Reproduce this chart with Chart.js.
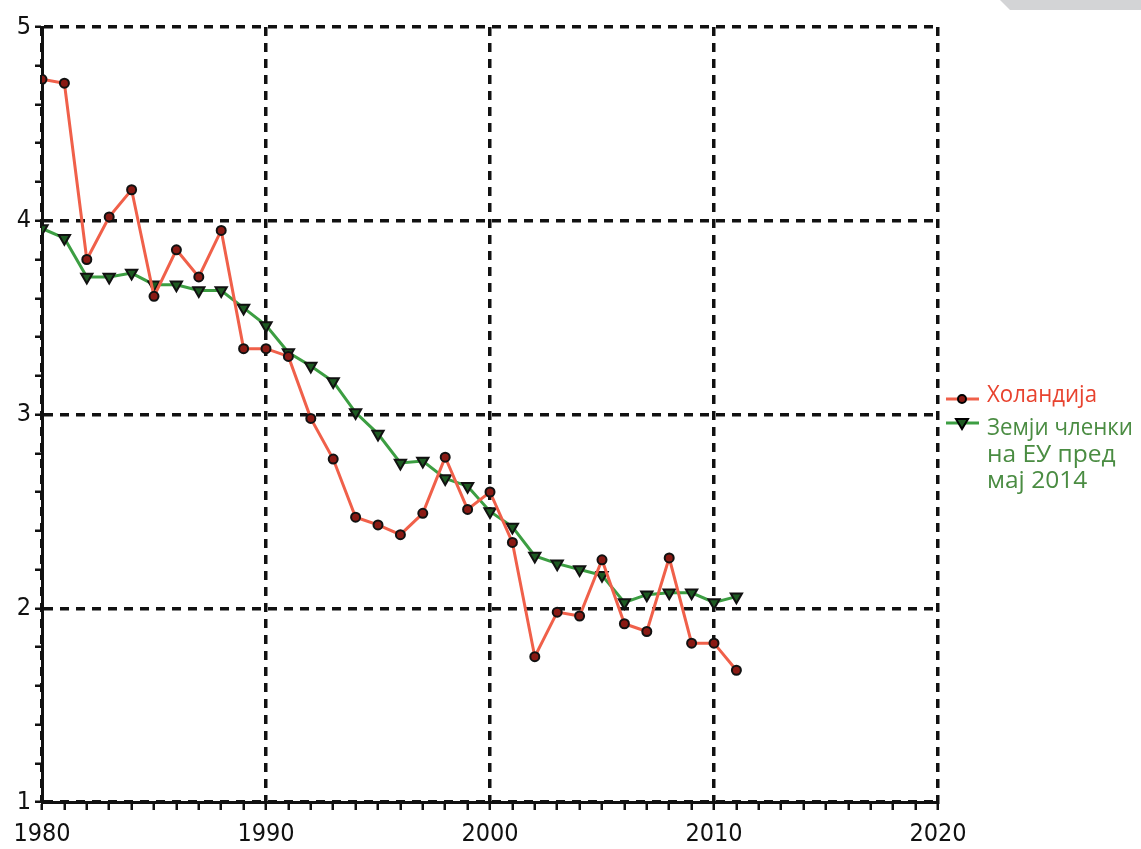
<!DOCTYPE html>
<html>
<head>
<meta charset="utf-8">
<script src="https://cdn.jsdelivr.net/npm/chart.js@4/dist/chart.umd.min.js"></script>
<style>
  body { margin: 0; background: #fff; }
  #wrap { position: relative; width: 1141px; height: 849px; }
  #corner { position: absolute; top: 0; left: 1000px; width: 141px; height: 10px;
            background: #d3d4d6; clip-path: polygon(0 0, 100% 0, 100% 100%, 10px 100%); }
</style>
</head>
<body>
<div id="wrap">
  <canvas id="canvas" width="1141" height="849"></canvas>
  <div id="corner"></div>
</div>
<script>
var years = [1980,1981,1982,1983,1984,1985,1986,1987,1988,1989,1990,1991,1992,1993,1994,1995,
             1996,1997,1998,1999,2000,2001,2002,2003,2004,2005,2006,2007,2008,2009,2010,2011];
var holandija = [4.73,4.71,3.80,4.02,4.16,3.61,3.85,3.71,3.95,3.34,3.34,3.30,2.98,2.77,2.47,2.43,
                 2.38,2.49,2.78,2.51,2.60,2.34,1.75,1.98,1.96,2.25,1.92,1.88,2.26,1.82,1.82,1.68];
var euMembers = [3.96,3.91,3.71,3.71,3.73,3.67,3.67,3.64,3.64,3.55,3.46,3.32,3.25,3.17,3.01,2.90,
                 2.75,2.76,2.67,2.63,2.50,2.42,2.27,2.23,2.20,2.17,2.03,2.07,2.08,2.08,2.03,2.06];
var legendRed = ['Холандија'];
var legendGreen = ['Земји членки', 'на ЕУ пред', 'мај 2014'];

function pts(vals){
    var out=[]
    for(var i=0;i<years.length;i++){ out.push({x:years[i],y:vals[i]}) }
    return out
}
function isInt(v){ return Math.abs(v-Math.round(v))<1e-6 }

var FONT = "'Open Sans', 'Noto Sans', sans-serif";
var TICKFONT = "'Liberation Sans Narrow', 'DejaVu Sans Condensed', 'Open Sans', sans-serif";

var legendPlugin = {
    id: 'sideLegend',
    afterDraw: function(chart){
        var ctx = chart.ctx;
        var ds = chart.data.datasets;
        ctx.save();
        ctx.font = '24.5px ' + FONT;
        ctx.textBaseline = 'alphabetic';
        // red entry
        ctx.strokeStyle = ds[0].borderColor; ctx.lineWidth = 3;
        ctx.beginPath(); ctx.moveTo(946,399); ctx.lineTo(979,399); ctx.stroke();
        ctx.fillStyle = ds[0].pointBackgroundColor; ctx.strokeStyle='#000';
        ctx.beginPath(); ctx.arc(962,399,4,0,Math.PI*2); ctx.fill(); ctx.lineWidth=2; ctx.stroke();
        ctx.fillStyle = '#e8432f';
        ctx.fillText(legendRed[0], 987, 402, 110);
        // green entry
        ctx.strokeStyle = ds[1].borderColor; ctx.lineWidth = 3;
        ctx.beginPath(); ctx.moveTo(946,423); ctx.lineTo(979,423); ctx.stroke();
        ctx.fillStyle = ds[1].pointBackgroundColor; ctx.strokeStyle='#000'; ctx.lineWidth=2;
        ctx.beginPath(); ctx.moveTo(956,419); ctx.lineTo(968,419); ctx.lineTo(962,429); ctx.closePath();
        ctx.fill(); ctx.stroke();
        ctx.fillStyle = '#4a8c42';
        for(var i=0;i<legendGreen.length;i++){
            ctx.fillText(legendGreen[i], 987, 435 + i*26.5, 146);
        }
        ctx.restore();
    }
};

var ctx = document.getElementById('canvas').getContext('2d');
var myChart = new Chart(ctx, {
    type: 'line',
    data: {
        datasets: [{
            label: legendRed[0],
            data: pts(holandija),
            borderColor: '#f0604a',
            borderWidth: 3,
            pointStyle: 'circle',
            pointRadius: 4.5,
            pointBorderWidth: 2,
            pointBorderColor: '#111',
            pointBackgroundColor: '#8a1a14',
            tension: 0
        },{
            label: legendGreen.join(' '),
            data: pts(euMembers),
            borderColor: '#3c9e42',
            borderWidth: 3,
            pointStyle: 'triangle',
            pointRotation: 180,
            pointRadius: 6.5,
            pointBorderWidth: 2,
            pointBorderColor: '#111',
            pointBackgroundColor: '#1d5a22',
            tension: 0
        }]
    },
    options: {
        responsive: false,
        animation: false,
        events: [],
        layout: { padding: { top: 27, right: 203, left: 0, bottom: 0 } },
        plugins: { legend: { display: false }, tooltip: { enabled: false } },
        scales: {
            x: {
                type: 'linear',
                min: 1980, max: 2020,
                afterFit: function(s){ s.height = 47 },
                ticks: {
                    stepSize: 1, autoSkip: false, maxRotation: 0,
                    color: '#111', padding: 9,
                    font: { family: TICKFONT, size: 25 },
                    callback: function(v){ return v%10===0 ? String(v) : '' }
                },
                grid: {
                    color: function(c){ return (c.tick && c.tick.value%10===0) ? '#111' : 'transparent' },
                    lineWidth: 3.5,
                    tickColor: '#111', tickWidth: 2.5, tickLength: 8
                },
                border: { color: '#111', width: 3, dash: [9,7] }
            },
            y: {
                min: 1, max: 5,
                afterFit: function(s){ s.width = 42 },
                ticks: {
                    stepSize: 0.2, autoSkip: false,
                    color: '#111', padding: 4,
                    font: { family: TICKFONT, size: 25 },
                    callback: function(v){ return isInt(v) ? String(Math.round(v)) : '' }
                },
                grid: {
                    color: function(c){ return (c.tick && isInt(c.tick.value)) ? '#111' : 'transparent' },
                    lineWidth: 3.5,
                    tickColor: '#111', tickWidth: 2.5, tickLength: 7
                },
                border: { color: '#111', width: 3, dash: [9,7] }
            }
        }
    },
    plugins: [legendPlugin]
});
</script>
</body>
</html>
